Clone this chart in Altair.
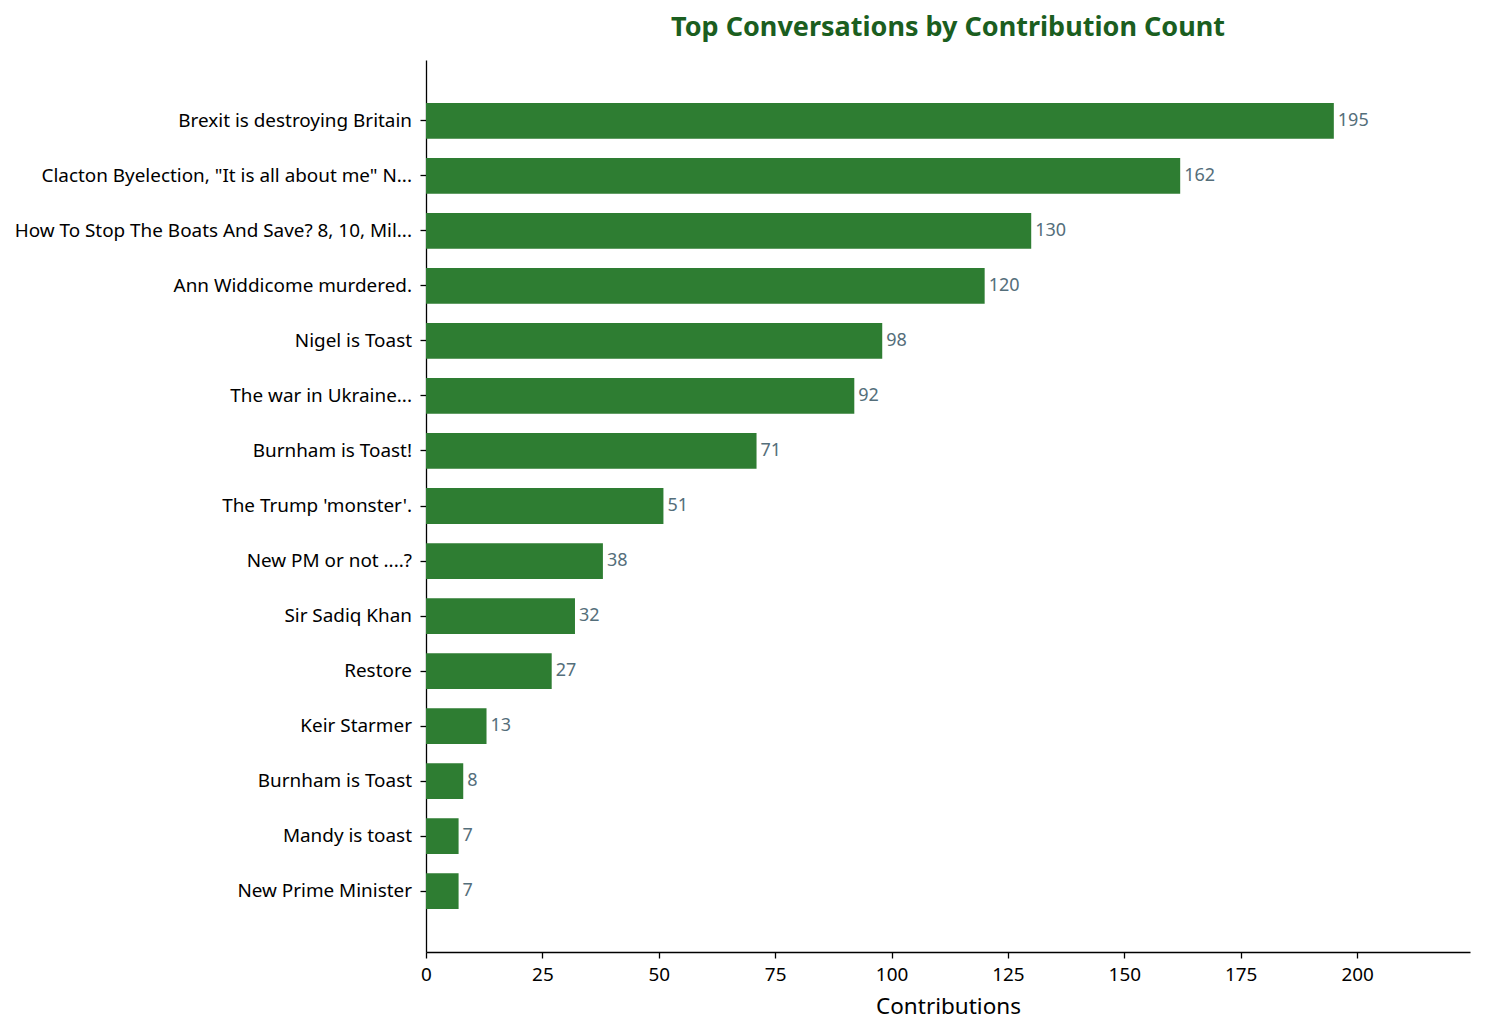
import altair as alt
import pandas as pd

topics = [
    "Brexit is destroying Britain",
    "Clacton Byelection, \"It is all about me\" N...",
    "How To Stop The Boats And Save? 8, 10, Mil...",
    "Ann Widdicome murdered.",
    "Nigel is Toast",
    "The war in Ukraine...",
    "Burnham is Toast!",
    "The Trump 'monster'.",
    "New PM or not ....?",
    "Sir Sadiq Khan",
    "Restore",
    "Keir Starmer",
    "Burnham is Toast",
    "Mandy is toast",
    "New Prime Minister",
]
counts = [195, 162, 130, 120, 98, 92, 71, 51, 38, 32, 27, 13, 8, 7, 7]

df = pd.DataFrame({"topic": topics, "count": counts})

FONT = "Noto Sans"

y_enc = alt.Y(
    "topic:N",
    sort=topics,
    title=None,
    scale=alt.Scale(paddingInner=0.35, paddingOuter=0.78),
    axis=alt.Axis(
        labelFont=FONT, labelFontSize=18.9, labelColor="#000000",
        tickColor="#000000", tickSize=6, tickWidth=1.3,
        domainColor="#000000", domainWidth=1.3, labelPadding=8.5,
        labelLimit=600, grid=False,
    ),
)
x_enc = alt.X(
    "count:Q",
    title="Contributions",
    scale=alt.Scale(domain=[0, 224.25], nice=False, zero=True),
    axis=alt.Axis(
        values=[0, 25, 50, 75, 100, 125, 150, 175, 200],
        grid=False, labelFlush=False,
        labelFont=FONT, labelFontSize=18.9, labelColor="#000000",
        tickColor="#000000", tickSize=6, tickWidth=1.3,
        domainColor="#000000", domainWidth=1.3, labelPadding=7,
        titleFont=FONT, titleFontSize=22.5, titleFontWeight="normal",
        titleColor="#000000", titlePadding=12,
    ),
)

bars = alt.Chart(df).mark_bar(color="#2e7d32").encode(x=x_enc, y=y_enc)
labels = alt.Chart(df).mark_text(
    align="left", baseline="middle", dx=4, dy=0,
    font=FONT, fontSize=18, color="#546e7a",
).encode(
    x=alt.X("count:Q"),
    y=alt.Y("topic:N", sort=topics),
    text=alt.Text("count:Q"),
)

chart = (
    alt.layer(bars, labels)
    .properties(
        width=1044,
        height=892,
        autosize=alt.AutoSizeParams(type="none"),
        padding={"left": 418, "top": 52, "right": 7, "bottom": 75},
        view=alt.ViewBackground(stroke="transparent", strokeWidth=0),
        title=alt.TitleParams(
            "Top Conversations by Contribution Count",
            font=FONT, fontSize=27, fontWeight="bold", color="#1b5e20",
            anchor="middle", offset=18,
        ),
    )
    .configure_view(strokeWidth=0, stroke="transparent")
    .configure(background="white")
)

chart.save("out.html", embed_options={"renderer": "svg", "actions": False})
